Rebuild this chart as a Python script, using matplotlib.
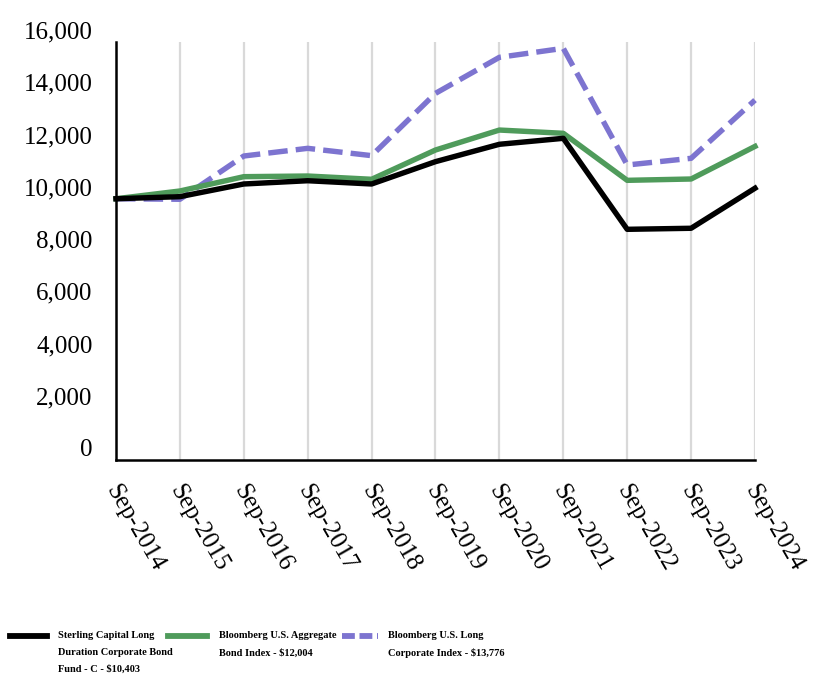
import matplotlib.pyplot as plt
import matplotlib.transforms as mtransforms
from matplotlib.lines import Line2D

# Data (growth of $10,000)
years = ["Sep-2014", "Sep-2015", "Sep-2016", "Sep-2017", "Sep-2018", "Sep-2019",
         "Sep-2020", "Sep-2021", "Sep-2022", "Sep-2023", "Sep-2024"]
fund = [10000, 10080, 10565, 10690, 10565, 11420, 12085, 12313, 8830, 8870, 10403]
aggregate = [10000, 10297, 10845, 10870, 10745, 11866, 12630, 12505, 10705, 10756, 12004]
long_corp = [10000, 9980, 11636, 11930, 11650, 14035, 15414, 15758, 11292, 11548, 13776]

yticks = [0, 2000, 4000, 6000, 8000, 10000, 12000, 14000, 16000]

fund_label = ["Sterling Capital Long", "Duration Corporate Bond", "Fund - C - $10,403"]
agg_label = ["Bloomberg U.S. Aggregate", "Bond Index - $12,004"]
corp_label = ["Bloomberg U.S. Long", "Corporate Index - $13,776"]

black = "#000000"
green = "#4f9b5b"
purple = "#7d74d0"

plt.rcParams['font.family'] = ['Liberation Serif', 'DejaVu Serif']

fig = plt.figure(figsize=(8.28, 6.84), dpi=100)
ax = fig.add_axes([116/828, 1 - 460/684, (755 - 116)/828, (460 - 42)/684])

x = list(range(len(years)))
ax.plot(x, long_corp, color=purple, lw=3.9, dashes=(3.6, 1.5), clip_on=False, zorder=3)
ax.plot(x, aggregate, color=green, lw=3.9, clip_on=False, zorder=4)
ax.plot(x, fund, color=black, lw=3.9, clip_on=False, zorder=5)

ax.set_xlim(0, len(years) - 1)
ax.set_ylim(0, 16000)

ax.set_xticks(x)
ax.set_xticklabels(years, rotation=-60, ha='left', va='center',
                   rotation_mode='anchor', fontsize=18)
ax.set_yticks(yticks)
ax.set_yticklabels([f"{v:,}" for v in yticks], fontsize=18)
ax.tick_params(axis='both', length=0)
ax.tick_params(axis='y', pad=17)
ax.tick_params(axis='x', pad=19)

# labels in the original sit a bit above their values
shift = mtransforms.ScaledTranslation(0, 12/100, fig.dpi_scale_trans)
for lab in ax.get_yticklabels():
    lab.set_transform(lab.get_transform() + shift)
shift_x = mtransforms.ScaledTranslation(-5/100, 0, fig.dpi_scale_trans)
for lab in ax.get_xticklabels():
    lab.set_transform(lab.get_transform() + shift_x)

ax.grid(axis='x', color='#d9d9d9', lw=1.6)
ax.set_axisbelow(True)
for s in ['top', 'right']:
    ax.spines[s].set_visible(False)
for s in ['left', 'bottom']:
    ax.spines[s].set_linewidth(1.8)
    ax.spines[s].set_zorder(6)

# Legend at the bottom
def px(xp, yp):
    return xp/828, 1 - yp/684

entries = [(10, 47, 58, black, None, fund_label),
           (168, 207, 219, green, None, agg_label),
           (342, 378, 388, purple, (2.2, 0.8), corp_label)]
for x0, x1, xt, col, dash, lines in entries:
    a, b = px(x0, 636)
    c, _ = px(x1, 636)
    ln = Line2D([a, c], [b, b], color=col, lw=4.2, transform=fig.transFigure)
    if dash:
        ln.set_dashes(dash)
    fig.add_artist(ln)
    for i, t in enumerate(lines):
        tx, ty = px(xt, 636 + i*16.7)
        fig.text(tx, ty, t, fontsize=7.5, fontweight='bold', va='center', ha='left')

fig.savefig("out.png", dpi=100)
